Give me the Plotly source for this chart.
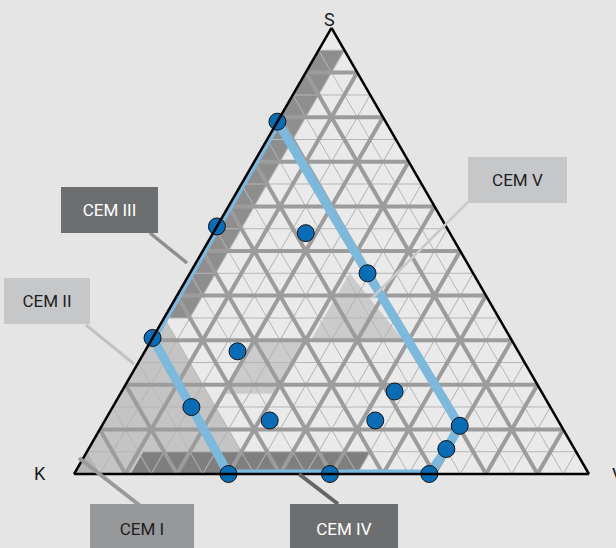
import plotly.graph_objects as go

W, H = 616, 548

# measured points: shares of S (top), K (bottom left), V (bottom right)
pt_s = [0.79, 0.555, 0.54, 0.45, 0.305, 0.275, 0.15, 0.185, 0.12, 0.12, 0.108, 0.056, 0.0, 0.0, 0.0]
pt_k = [0.21, 0.445, 0.28, 0.205, 0.695, 0.545, 0.697, 0.285, 0.56, 0.355, 0.197, 0.249, 0.70, 0.503, 0.31]
pt_v = [0.0, 0.0, 0.18, 0.345, 0.0, 0.18, 0.153, 0.53, 0.32, 0.525, 0.695, 0.695, 0.30, 0.497, 0.69]

# outline through the outer points
hull_s = [0.79, 0.555, 0.305, 0.15, 0.0, 0.0, 0.0, 0.056, 0.108, 0.45, 0.79]
hull_k = [0.21, 0.445, 0.695, 0.697, 0.70, 0.503, 0.31, 0.249, 0.197, 0.205, 0.21]
hull_v = [0.0, 0.0, 0.0, 0.153, 0.30, 0.497, 0.69, 0.695, 0.695, 0.345, 0.0]

# cement type areas (S, K, V corners) and their shade
cem1_s, cem1_k, cem1_v = [0.05, 0.0, 0.0], [0.95, 1.0, 0.95], [0.0, 0.0, 0.05]
cem2_s, cem2_k, cem2_v = [0.35, 0.05, 0.0, 0.0], [0.65, 0.95, 0.95, 0.65], [0.0, 0.0, 0.05, 0.35]
cem3_s, cem3_k, cem3_v = [0.95, 0.95, 0.35, 0.35], [0.05, 0.0, 0.60, 0.65], [0.0, 0.05, 0.05, 0.0]
cem4_s, cem4_k, cem4_v = [0.0, 0.05, 0.05, 0.0], [0.89, 0.84, 0.40, 0.45], [0.11, 0.11, 0.55, 0.55]
cem5a_s, cem5a_k, cem5a_v = [0.45, 0.30, 0.30], [0.24, 0.39, 0.21], [0.31, 0.31, 0.49]
cem5b_s, cem5b_k, cem5b_v = [0.30, 0.30, 0.18, 0.18], [0.50, 0.40, 0.52, 0.62], [0.20, 0.30, 0.30, 0.20]

areas = [
    (cem2_s, cem2_k, cem2_v, "#c4c4c4"),
    (cem1_s, cem1_k, cem1_v, "#b4b4b4"),
    (cem3_s, cem3_k, cem3_v, "#8e8e8e"),
    (cem4_s, cem4_k, cem4_v, "#7f7f7f"),
    (cem5a_s, cem5a_k, cem5a_v, "#cbcbcb"),
    (cem5b_s, cem5b_k, cem5b_v, "#cbcbcb"),
]

FONT = "Roboto, Liberation Sans Narrow, sans-serif"

fig = go.Figure()

for s, k, v, col in areas:
    fig.add_trace(go.Scatterternary(a=s + s[:1], b=k + k[:1], c=v + v[:1], mode="lines",
                                    fill="toself", fillcolor=col, line=dict(width=0),
                                    hoverinfo="skip", showlegend=False, subplot="ternary"))

# thin grid layer holder
fig.add_trace(go.Scatterternary(a=[], b=[], c=[], mode="markers", showlegend=False,
                                subplot="ternary2"))

fig.add_trace(go.Scatterternary(a=hull_s, b=hull_k, c=hull_v, mode="lines",
                                line=dict(color="#7db8dd", width=9), cliponaxis=False,
                                hoverinfo="skip", showlegend=False, subplot="ternary3"))
fig.add_trace(go.Scatterternary(a=pt_s, b=pt_k, c=pt_v, mode="markers",
                                marker=dict(size=17, color="#0a6cb4", line=dict(color="#111111", width=1)),
                                cliponaxis=False, showlegend=False, subplot="ternary3"))

side = 515
cx, base = 331.5, 474
dom_x = [(cx - side / 2) / W, (cx + side / 2) / W]
dom_y = [(H - base) / H, (H - base + side * 0.8660254) / H]


def tern_axes(dtick, gcol, gw, line):
    ax = dict(min=0, dtick=dtick, tick0=0, showgrid=gw > 0, gridcolor=gcol, gridwidth=max(gw, 1),
              showticklabels=False, ticks="", showline=line, linecolor="black", linewidth=2.5,
              layer="above traces", title=dict(text=""))
    return dict(domain=dict(x=dom_x, y=dom_y), sum=1, bgcolor="rgba(0,0,0,0)",
                aaxis=ax, baxis=ax, caxis=ax)


t1 = tern_axes(0.1, "#9c9c9c", 0, False)
t1["bgcolor"] = "#eaeaea"
fig.update_layout(
    ternary=t1,
    ternary2=tern_axes(0.05, "#b6b6b6", 1, False),
    ternary3=tern_axes(0.1, "#9c9c9c", 4, True),
)


def px(x, y):
    return x / W, 1 - y / H


# leader lines
leaders = [
    ((150, 233), (187, 263), "#8f8f8f", 3.5),
    ((86, 325), (134, 364), "#c2c2c2", 3),
    ((468, 202), (372, 298), "#c9c9c9", 2.5),
    ((143, 508), (79, 458), "#9a9a9a", 4),
    ((338, 504), (299, 474), "#666666", 4),
]
for (x0, y0), (x1, y1), col, w in leaders:
    a0, b0 = px(x0, y0)
    a1, b1 = px(x1, y1)
    fig.add_shape(type="line", xref="paper", yref="paper", x0=a0, y0=b0, x1=a1, y1=b1,
                  line=dict(color=col, width=w))

# labelled boxes: text, centre, size, fill, text colour
boxes = [
    ("CEM III", (109.5, 210), (97, 46), "#6d6e70", "white"),
    ("CEM II", (47, 301), (86, 46), "#c6c7c9", "#1e1e1e"),
    ("CEM V", (517.5, 180), (99, 46), "#c6c7c9", "#1e1e1e"),
    ("CEM I", (142, 529), (104, 50), "#97989a", "#1e1e1e"),
    ("CEM IV", (344, 529), (108, 50), "#6d6e70", "white"),
]
for txt, (x, y), (w, h), bg, fc in boxes:
    xa, ya = px(x, y)
    fig.add_annotation(text=txt, x=xa, y=ya, xref="paper", yref="paper", showarrow=False,
                       xanchor="center", yanchor="middle", width=w, height=h, bgcolor=bg,
                       borderpad=0, borderwidth=0, font=dict(family=FONT, size=17, color=fc))

# corner labels
for txt, (x, y) in [("S", (329, 20)), ("K", (40, 473)), ("V", (618, 474))]:
    xa, ya = px(x, y)
    fig.add_annotation(text=txt, x=xa, y=ya, xref="paper", yref="paper", showarrow=False,
                       xanchor="center", yanchor="middle",
                       font=dict(family=FONT, size=18, color="#1e1e1e"))

fig.update_layout(width=W, height=H, margin=dict(l=0, r=0, t=0, b=0),
                  paper_bgcolor="#e4e5e4", plot_bgcolor="#e4e5e4", showlegend=False)

fig.write_html("out.html", config={"displayModeBar": False},
               post_script="document.body.style.margin='0px';")
